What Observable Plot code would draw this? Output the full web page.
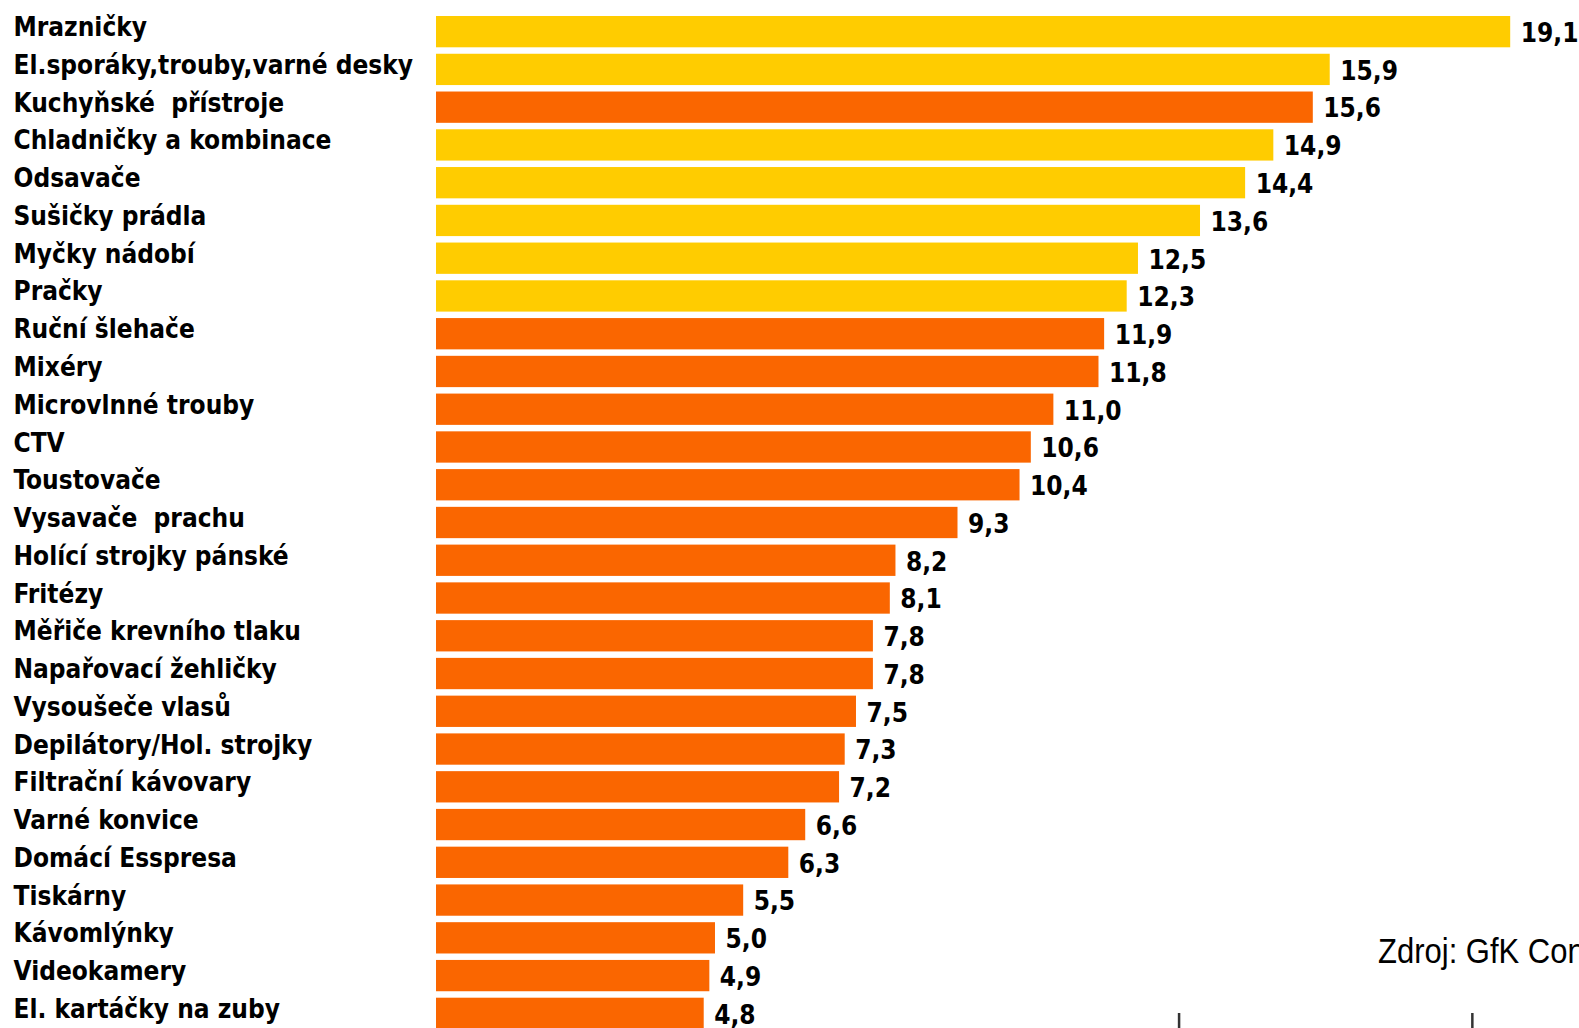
<!DOCTYPE html>
<html>
<head>
<meta charset="utf-8">
<script src="https://cdn.jsdelivr.net/npm/d3@7"></script>
<script src="https://cdn.jsdelivr.net/npm/@observablehq/plot@0.6"></script>
<style>
  html, body { margin: 0; padding: 0; background: #fff; width: 1579px; height: 1028px; overflow: hidden; }
  #wrap { position: relative; width: 1579px; height: 1028px; overflow: hidden; }
  #chart svg { display: block; }
  #source { position: absolute; left: 1378px; top: 937px; font-family: "Liberation Sans Narrow", "Arial Narrow", "Liberation Sans", sans-serif; font-size: 31px; line-height: 1; color: #000; white-space: nowrap; transform: scaleY(1.13); transform-origin: 0 26px; }
</style>
</head>
<body>
<div id="wrap">
  <div id="chart"></div>
  <div id="source">Zdroj: GfK Con</div>
</div>
<script>
const categories = [
  "Mrazničky",
  "El.sporáky,trouby,varné desky",
  "Kuchyňské  přístroje",
  "Chladničky a kombinace",
  "Odsavače",
  "Sušičky prádla",
  "Myčky nádobí",
  "Pračky",
  "Ruční šlehače",
  "Mixéry",
  "Microvlnné trouby",
  "CTV",
  "Toustovače",
  "Vysavače  prachu",
  "Holící strojky pánské",
  "Fritézy",
  "Měřiče krevního tlaku",
  "Napařovací žehličky",
  "Vysoušeče vlasů",
  "Depilátory/Hol. strojky",
  "Filtrační kávovary",
  "Varné konvice",
  "Domácí Esspresa",
  "Tiskárny",
  "Kávomlýnky",
  "Videokamery",
  "El. kartáčky na zuby"
];
const values = [19.1, 15.9, 15.6, 14.9, 14.4, 13.6, 12.5, 12.3, 11.9, 11.8, 11.0, 10.6, 10.4, 9.3, 8.2, 8.1, 7.8, 7.8, 7.5, 7.3, 7.2, 6.6, 6.3, 5.5, 5.0, 4.9, 4.8];
const groups = ["velké", "velké", "malé", "velké", "velké", "velké", "velké", "velké",
  "malé", "malé", "malé", "malé", "malé", "malé", "malé", "malé", "malé", "malé", "malé",
  "malé", "malé", "malé", "malé", "malé", "malé", "malé", "malé"];
const groupNames = ["velké", "malé"];
const groupColors = ["#FFCC00", "#FA6600"];
// stub ticks of a cropped-off axis at the bottom edge
const stubTicks = [13.22, 18.42];

const data = categories.map((c, i) => ({category: c, value: values[i], group: groups[i]}));
const fmt = v => v.toFixed(1).replace(".", ",");
const font = "'DejaVu Sans Condensed', 'DejaVu Sans', sans-serif";

const chart = Plot.plot({
  width: 1579,
  height: 1028,
  marginLeft: 433,
  marginRight: 0,
  marginTop: 16,
  marginBottom: -1,
  style: {fontFamily: font, background: "#fff"},
  x: {domain: [0, 20.32], axis: null},
  y: {domain: categories, axis: null, paddingInner: 0.171, paddingOuter: 0, round: false},
  color: {domain: groupNames, range: groupColors},
  marks: [
    Plot.barX(data, {x: "value", y: "category", fill: "group", insetLeft: 3}),
    Plot.ruleX(stubTicks, {x: d => d, insetTop: 997, stroke: "#333", strokeWidth: 2.5}),
    Plot.text(data, {
      y: "category", text: "category", frameAnchor: "left", textAnchor: "start",
      dx: -420, dy: -4.3, fontSize: 26, fontWeight: "bold", fill: "#000"
    }),
    Plot.text(data, {
      x: "value", y: "category", text: d => fmt(d.value), textAnchor: "start",
      dx: 10, dy: 1.5, fontSize: 26, fontWeight: "bold", fill: "#000"
    })
  ]
});
document.getElementById("chart").appendChild(chart);
</script>
</body>
</html>
